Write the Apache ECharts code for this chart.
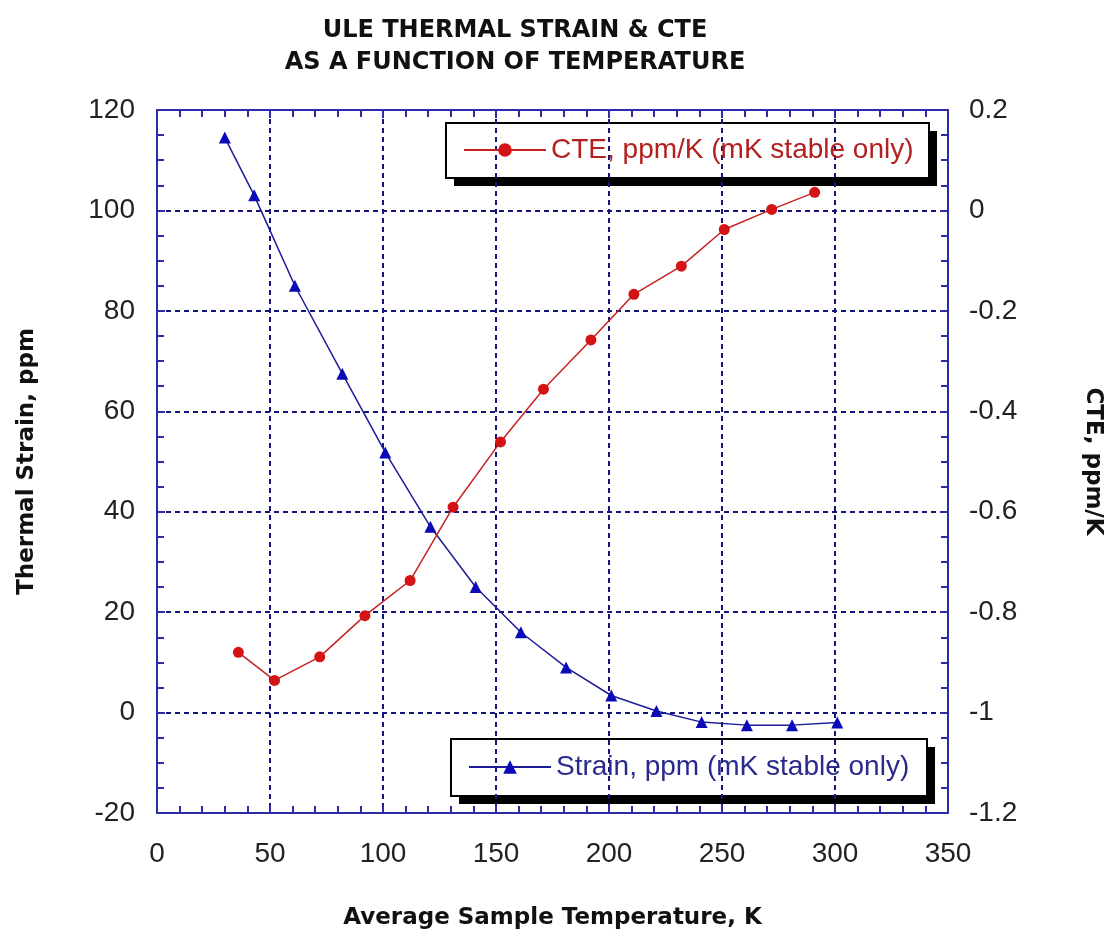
<!DOCTYPE html>
<html>
<head>
<meta charset="utf-8">
<title>ULE thermal strain & CTE</title>
<script src="https://cdn.jsdelivr.net/npm/echarts@6/dist/echarts.min.js"></script>
<style>
html, body {
  margin: 0;
  padding: 0;
  background: #fff;
}
#myChart {
  width: 1113px;
  height: 937px;
}
</style>
</head>
<body>
<div id="myChart"></div>
<script>
// temperatures (K) of the strain points and strain in ppm
const strainTemps = [30, 43, 61, 82, 101, 121, 141, 161, 181, 201, 221, 241, 261, 281, 301]
const strainVals = [114.5, 103, 85, 67.5, 51.8, 37, 25, 16, 9, 3.4, 0.3, -1.9, -2.5, -2.5, -2]
// CTE points sit between the strain temperatures
const cteTemps = [36, 52, 72, 92, 112, 131, 152, 171, 192, 211, 232, 251, 272, 291]
const cteVals = [-0.88, -0.936, -0.889, -0.807, -0.737, -0.591, -0.461, -0.356, -0.258, -0.167, -0.111, -0.038, 0.002, 0.036]

const xTicks = [0, 50, 100, 150, 200, 250, 300, 350]
const strainTicks = [-20, 0, 20, 40, 60, 80, 100, 120]
const cteTicks = [-1.2, -1, -0.8, -0.6, -0.4, -0.2, 0, 0.2]

const frameColor = '#2c2ca8'
const gridColor = '#14147a'
const labelFont = { fontFamily: 'Liberation Sans', fontSize: 28, color: '#222' }
const nameFont = { fontFamily: 'DejaVu Sans', fontSize: 23, fontWeight: 'bold', color: '#111' }

let myChart = echarts.init(document.getElementById('myChart'))

const axisCommon = {
  type: 'value',
  axisLine: { show: true, onZero: false, lineStyle: { color: frameColor, width: 2 } },
  axisTick: { show: true, inside: true, length: 8, lineStyle: { color: frameColor, width: 2 } },
  minorTick: { show: true, length: 7, lineStyle: { color: frameColor, width: 2 } }
}

// legend frame with a hard drop shadow
function legendBox(x, y, w, h) {
  return {
    type: 'group',
    z: 1,
    children: [
      { type: 'rect', shape: { x: x + 8, y: y + 8, width: w, height: h }, style: { fill: '#000' } },
      { type: 'rect', shape: { x: x, y: y, width: w, height: h }, style: { fill: '#fff', stroke: '#000', lineWidth: 2 } }
    ]
  }
}

myChart.setOption({
  animation: false,
  backgroundColor: '#fff',
  title: {
    text: 'ULE THERMAL STRAIN & CTE\nAS A FUNCTION OF TEMPERATURE',
    left: 515,
    top: 15,
    padding: 0,
    textAlign: 'center',
    textStyle: {
      fontFamily: 'DejaVu Sans',
      fontSize: 24,
      fontWeight: 'bold',
      color: '#111',
      lineHeight: 32
    }
  },
  grid: { left: 157, top: 110, right: 165, bottom: 124 },
  graphic: [
    legendBox(446, 123, 483, 55),
    legendBox(451, 739, 476, 57)
  ],
  legend: [
    {
      data: ['CTE, ppm/K (mK stable only)'],
      left: 463,
      top: 136,
      padding: 0,
      z: 5,
      itemWidth: 82,
      itemHeight: 17,
      textStyle: { fontFamily: 'Liberation Sans', fontSize: 28, color: '#b32020' }
    },
    {
      data: ['Strain, ppm (mK stable only)'],
      left: 468,
      top: 753,
      padding: 0,
      z: 5,
      itemWidth: 82,
      itemHeight: 17,
      textStyle: { fontFamily: 'Liberation Sans', fontSize: 28, color: '#2a2a8c' }
    }
  ],
  xAxis: [
    Object.assign({}, axisCommon, {
      position: 'bottom',
      min: xTicks[0],
      max: xTicks[xTicks.length - 1],
      interval: 50,
      minorTick: Object.assign({}, axisCommon.minorTick, { splitNumber: 5 }),
      axisLabel: Object.assign({ margin: 27 }, labelFont),
      splitLine: { show: true, lineStyle: { color: gridColor, type: [5, 4], width: 2 } },
      name: 'Average Sample Temperature, K',
      nameLocation: 'middle',
      nameGap: 94,
      nameTextStyle: nameFont
    }),
    Object.assign({}, axisCommon, {
      position: 'top',
      min: xTicks[0],
      max: xTicks[xTicks.length - 1],
      interval: 50,
      minorTick: Object.assign({}, axisCommon.minorTick, { splitNumber: 5 }),
      axisLabel: { show: false },
      splitLine: { show: false }
    })
  ],
  yAxis: [
    Object.assign({}, axisCommon, {
      position: 'left',
      min: strainTicks[0],
      max: strainTicks[strainTicks.length - 1],
      interval: 20,
      minorTick: Object.assign({}, axisCommon.minorTick, { splitNumber: 4 }),
      axisLabel: Object.assign({ margin: 22 }, labelFont),
      splitLine: { show: true, lineStyle: { color: gridColor, type: [5, 4], width: 2 } },
      name: 'Thermal Strain, ppm',
      nameLocation: 'middle',
      nameGap: 118,
      nameTextStyle: nameFont
    }),
    Object.assign({}, axisCommon, {
      position: 'right',
      min: cteTicks[0],
      max: cteTicks[cteTicks.length - 1],
      interval: 0.2,
      minorTick: Object.assign({}, axisCommon.minorTick, { splitNumber: 4 }),
      axisLabel: Object.assign({
        margin: 21,
        formatter: function(v) {
          return String(+v.toFixed(1))
        }
      }, labelFont),
      splitLine: { show: false },
      name: 'CTE, ppm/K',
      nameLocation: 'middle',
      nameRotate: -90,
      nameGap: 133,
      nameTextStyle: nameFont
    })
  ],
  series: [
    {
      name: 'Strain, ppm (mK stable only)',
      type: 'line',
      xAxisIndex: 0,
      yAxisIndex: 0,
      data: strainTemps.map((t, i) => [t, strainVals[i]]),
      symbol: 'triangle',
      symbolSize: 12,
      itemStyle: { color: '#0a0ab8' },
      lineStyle: { color: '#1c1c9a', width: 1.5 }
    },
    {
      name: 'CTE, ppm/K (mK stable only)',
      type: 'line',
      xAxisIndex: 0,
      yAxisIndex: 1,
      data: cteTemps.map((t, i) => [t, cteVals[i]]),
      symbol: 'circle',
      symbolSize: 11,
      itemStyle: { color: '#d41414' },
      lineStyle: { color: '#c42222', width: 1.5 }
    }
  ]
})
</script>
</body>
</html>
